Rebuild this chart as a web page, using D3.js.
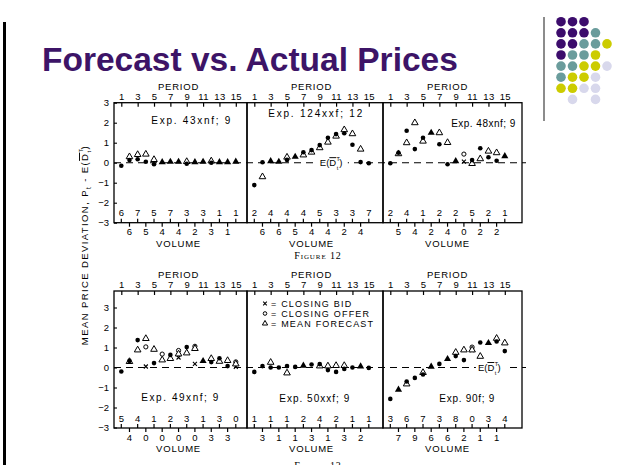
<!DOCTYPE html>
<html><head><meta charset="utf-8">
<script src="https://cdn.jsdelivr.net/npm/d3@7/dist/d3.min.js"></script>
<style>
html,body{margin:0;padding:0;background:#fff;}
svg{display:block;}
</style></head><body>
<svg id="chart" width="618" height="465"></svg>
<script>
// ---------- data ----------
const periods = d3.range(1, 16);
const periodTicks = [1, 3, 5, 7, 9, 11, 13, 15];
const yTickValues = [-3, -2, -1, 0, 1, 2, 3];

// Figure 12 — Exp. 43xnf; 9
const price43 = [-0.15, 0.13, 0.17, 0.05, -0.08, 0, 0.02, 0.02, -0.05, 0, 0.02, 0, 0, 0, 0.03];
const fcst43  = [null, 0.27, 0.38, 0.4, 0.13, 0, 0.02, 0.02, 0.03, 0, 0.02, 0.06, 0, 0, 0.03];
const vol43   = [6, 6, 7, 5, 5, 4, 7, 4, 3, 2, 3, 3, 1, 1, 1];

// Figure 12 — Exp. 124xxf; 12
const price124 = [-1.12, 0.02, 0.02, 0.02, 0.14, 0.27, 0.52, 0.63, 0.88, 1.25, 1.43, 1.47, 0.9, 0.03, -0.03];
const fcst124  = [null, -0.73, 0.05, 0.02, 0.25, 0.27, 0.36, 0.5, 0.72, 1.0, 1.3, 1.62, 1.42, 0.65, null];
const vol124   = [2, 6, 4, 6, 4, 5, 4, 4, 5, 4, 3, 2, 3, 4, 7];

// Figure 12 — Exp. 48xnf; 9
const price48 = [-0.03, 0.5, 1.6, 0.68, 1.25, 1.47, 0.92, -0.08, 0.05, null, 0.13, 0.72, 0.27, 0.1, 0.3];
const fcst48  = [null, 0.42, 0.97, 1.97, 1.05, 1.47, 1.47, 0.98, 0.05, null, -0.07, 0.17, 0.55, 0.47, 0.3];
const bid48   = [null, null, null, null, null, null, null, null, null, 0.05, null, null, null, null, null];
const offer48 = [null, null, null, null, null, null, null, null, null, 0.43, null, null, null, null, null];
const vol48   = [2, 5, 4, 4, 1, 2, 2, 4, 2, 0, 5, 2, 2, 2, 1];

// Figure 13 — Exp. 49xnf; 9
const price49 = [-0.2, 0.33, 1.37, null, 0.22, null, 0.63, null, 1.02, null, 0.3, 0.27, 0.46, 0.07, null];
const fcst49  = [null, 0.27, 0.85, 1.42, 0.88, 0.35, 0.42, 0.65, 0.7, 0.92, 0.3, 0.42, 0.28, 0.32, 0.15];
const bid49   = [null, null, null, 0.05, null, null, null, 0.5, null, 0.18, null, null, null, null, 0.03];
const offer49 = [null, null, null, 1.03, null, 0.67, null, 0.85, null, 1.06, null, null, null, null, 0.28];
const vol49   = [5, 4, 4, 0, 1, 0, 2, 0, 3, 0, 1, 3, 3, 3, 0];

// Figure 13 — Exp. 50xxf; 9
const price50 = [-0.22, 0.07, 0, 0, 0.07, 0.03, 0.07, 0.15, 0.17, -0.13, -0.22, -0.07, 0, 0, -0.02];
const fcst50  = [null, null, 0.23, null, -0.3, null, 0.07, null, 0.05, 0.05, 0.07, 0.07, null, 0.03, null];
const vol50   = [1, 3, 1, 1, 1, 1, 2, 3, 4, 1, 2, 3, 1, 2, 1];

// Figure 13 — Exp. 90f; 9
const price90 = [-1.57, -1.13, -0.7, -0.52, -0.35, 0.02, 0.18, 0.4, 0.57, 0.37, null, 1.25, 1.2, 1.3, 0.82];
const fcst90  = [null, -1.13, -0.85, null, -0.28, 0.02, null, 0.4, 0.73, 0.85, 0.85, 0.53, 1.2, 1.43, 1.2];
const bid90   = [null, null, null, null, null, null, null, null, null, null, 0.87, null, null, null, null];
const offer90 = [null, null, null, null, null, null, null, null, null, null, 1.02, null, null, null, null];
const vol90   = [3, 7, 6, 9, 7, 6, 3, 6, 8, 2, 0, 1, 3, 1, 4];

const legendLabels = ["= CLOSING BID", "= CLOSING OFFER", "= MEAN FORECAST"];

// corner ornament colours, row by row
const ornamentRows = ["PPP", "PPPT", "PPTTY", "PTTY", "TTYYL", "TYYL", "YYLL", " L L"];
const ornamentColors = {P: "#3c0c6c", T: "#6a9c9c", Y: "#cccc00", L: "#d8d8ec"};

// ---------- layout ----------
const svg = d3.select("#chart");
const SANS = "'Liberation Sans', Arial, Helvetica, sans-serif";
const colEdges = [114, 247, 383, 522];
const rows = [
  {top: 102.7, y0: 222.7, y3: 102.7, bottom: 222.7, label: "Figure 12", labelY: 259},
  {top: 291, y0: 427.5, y3: 307.5, bottom: 428, label: "Figure 13", labelY: 469}
];
const none = periods.map(() => null);
const panels = [
  {row: 0, col: 0, name: "Exp. 43xnf; 9",   pos: [4.67, 1.96],  w: 79, price: price43,  fcst: fcst43,  bid: none,  offer: none,    vol: vol43},
  {row: 0, col: 1, name: "Exp. 124xxf; 12", pos: [2.7, 2.31],   w: 94, price: price124, fcst: fcst124, bid: none,  offer: none,    vol: vol124, eLabel: [10.6, 0]},
  {row: 0, col: 2, name: "Exp. 48xnf; 9",   pos: [8.45, 1.81],  w: 64, price: price48,  fcst: fcst48,  bid: bid48, offer: offer48, vol: vol48},
  {row: 1, col: 0, name: "Exp. 49xnf; 9",   pos: [3.45, -1.68], w: 77, price: price49,  fcst: fcst49,  bid: bid49, offer: offer49, vol: vol49},
  {row: 1, col: 1, name: "Exp. 50xxf; 9",   pos: [4.05, -1.7],  w: 70, price: price50,  fcst: fcst50,  bid: none,  offer: none,    vol: vol50, legend: true},
  {row: 1, col: 2, name: "Exp. 90f; 9",     pos: [7.0, -1.7],   w: 55, price: price90,  fcst: fcst90,  bid: bid90, offer: offer90, vol: vol90, eLabel: [13.3, 0]}
];

// ---------- slide frame ----------
svg.append("rect").attr("x", 3).attr("y", 22).attr("width", 3).attr("height", 443).attr("fill", "#000");
svg.append("rect").attr("x", 543).attr("y", 17).attr("width", 2).attr("height", 104).attr("fill", "#8c8c8c");
svg.append("text").attr("x", 42).attr("y", 71)
  .attr("font-family", SANS).attr("font-weight", "bold").attr("font-size", 33.5)
  .attr("fill", "#3d1467").text("Forecast vs. Actual Prices");

ornamentRows.forEach((r, i) => {
  r.split("").forEach((c, j) => {
    if (c === " ") return;
    svg.append("circle").attr("cx", 561 + j * 11.5).attr("cy", 21.7 + i * 11.1)
      .attr("r", 4.8).attr("fill", ornamentColors[c]);
  });
});

// ---------- marker helpers ----------
const triOpen = d3.symbol(d3.symbolTriangle, 19);
const triFill = d3.symbol(d3.symbolTriangle, 22);
function drawMarkers(g, x, y, p) {
  periods.forEach((t, i) => {
    const pr = p.price[i], fc = p.fcst[i], bd = p.bid[i], of = p.offer[i];
    const merged = pr != null && fc != null && Math.abs(pr - fc) < 0.06;
    if (of != null) g.append("circle").attr("cx", x(t)).attr("cy", y(of)).attr("r", 2.1)
      .attr("fill", "#fff").attr("stroke", "#000").attr("stroke-width", 1);
    if (bd != null) {
      const cx = x(t), cy = y(bd), s = 2;
      g.append("path").attr("d", `M${cx - s},${cy - s}L${cx + s},${cy + s}M${cx - s},${cy + s}L${cx + s},${cy - s}`)
        .attr("stroke", "#000").attr("stroke-width", 1.1);
    }
    if (merged) {
      g.append("path").attr("d", triFill()).attr("transform", `translate(${x(t)},${y(fc) - 0.5})`).attr("fill", "#000");
      return;
    }
    if (fc != null) g.append("path").attr("d", triOpen()).attr("transform", `translate(${x(t)},${y(fc) - 0.5})`)
      .attr("fill", "#fff").attr("stroke", "#000").attr("stroke-width", 1);
    if (pr != null) g.append("circle").attr("cx", x(t)).attr("cy", y(pr)).attr("r", 2.3).attr("fill", "#000");
  });
}

// E(D-bar, sub t, sup T) label, with stacked indices
function eLabel(g, x, y) {
  const t = g.append("text").attr("x", x - 13).attr("y", y + 3.5).attr("font-family", SANS)
    .attr("font-size", 9.5).attr("fill", "#000");
  t.append("tspan").text("E(");
  t.append("tspan").attr("style", "text-decoration:overline").text("D");
  t.append("tspan").attr("font-size", 5.5).attr("dx", 0.4).attr("dy", -5).text("T");
  t.append("tspan").attr("font-size", 5.5).attr("dx", -3.2).attr("dy", 8.5).text("t");
  t.append("tspan").attr("dx", 1).attr("dy", -3.5).text(")");
}

// ---------- rows ----------
rows.forEach((r) => {
  const y = d3.scaleLinear().domain([-3, 3]).range([r.y0, r.y3]);
  const g = svg.append("g");

  // zero reference line across the row
  g.append("line").attr("x1", colEdges[0]).attr("x2", colEdges[3] + 4)
    .attr("y1", y(0)).attr("y2", y(0))
    .attr("stroke", "#000").attr("stroke-width", 1.1).attr("stroke-dasharray", "7,5");

  // y axis on the first panel
  const yAxis = d3.axisLeft(y).tickValues(yTickValues).tickSize(-3).tickPadding(5).tickFormat(d3.format("d"));
  const ya = g.append("g").attr("transform", `translate(${colEdges[0]},0)`).call(yAxis);
  ya.select(".domain").remove();
  ya.selectAll("line").attr("stroke", "#000").attr("stroke-width", 1.1);
  ya.selectAll("text").attr("font-family", SANS).attr("font-size", 9.5).attr("fill", "#000");

  // figure caption
  svg.append("text").attr("x", 318).attr("y", r.labelY).attr("text-anchor", "middle")
    .attr("font-family", "'Liberation Serif', 'Times New Roman', serif").attr("font-size", 10)
    .attr("font-variant", "small-caps").attr("letter-spacing", 0.9).text(r.label);
});

panels.forEach(p => {
  const r = rows[p.row];
  const x0 = colEdges[p.col], x1 = colEdges[p.col + 1];
  const x = d3.scaleLinear().domain([1, 15]).range([x0 + 7.3, x0 + 7.3 + 114.5]);
  const y = d3.scaleLinear().domain([-3, 3]).range([r.y0, r.y3]);
  const g = svg.append("g");

  // period axis along the top, ticks pointing inward
  const top = g.append("g").attr("transform", `translate(0,${r.top})`)
    .call(d3.axisTop(x).tickValues(periodTicks).tickSize(-4).tickPadding(3));
  top.select(".domain").remove();
  top.selectAll("line").attr("stroke", "#000").attr("stroke-width", 1.2);
  top.selectAll("text").attr("font-family", SANS).attr("font-size", 9.5).attr("fill", "#000").attr("letter-spacing", 0.3);
  g.append("text").attr("x", x(8)).attr("y", r.top - 13).attr("text-anchor", "middle")
    .attr("font-family", SANS).attr("font-size", 9.5).attr("letter-spacing", 0.8).text("PERIOD");

  // volume along the bottom: odd periods inside, even periods below
  periods.forEach((t, i) => {
    const odd = t % 2 === 1;
    g.append("line").attr("x1", x(t)).attr("x2", x(t))
      .attr("y1", r.bottom).attr("y2", odd ? r.bottom - 4 : r.bottom + 4)
      .attr("stroke", "#000").attr("stroke-width", 1.2);
    g.append("text").attr("x", x(t)).attr("y", odd ? r.bottom - 6.5 : r.bottom + 12.5)
      .attr("text-anchor", "middle").attr("font-family", SANS).attr("font-size", 9.5)
      .text(p.vol[i]);
  });
  g.append("text").attr("x", x(8)).attr("y", r.bottom + 24).attr("text-anchor", "middle")
    .attr("font-family", SANS).attr("font-size", 9.5).attr("letter-spacing", 0.8).text("VOLUME");

  // panel frame
  g.append("rect").attr("x", x0).attr("y", r.top).attr("width", x1 - x0).attr("height", r.bottom - r.top)
    .attr("fill", "none").attr("stroke", "#000").attr("stroke-width", 1.3);

  if (p.eLabel) {
    const ex = x(p.eLabel[0]), ey = y(p.eLabel[1]);
    g.append("rect").attr("x", ex - 15).attr("y", ey - 6).attr("width", 30).attr("height", 12).attr("fill", "#fff");
    eLabel(g, ex, ey);
  }

  g.append("text").attr("x", x(p.pos[0])).attr("y", y(p.pos[1]))
    .attr("font-family", SANS).attr("font-size", 10)
    .attr("textLength", p.w).attr("lengthAdjust", "spacing").text(p.name);

  drawMarkers(g, x, y, p);

  if (p.legend) {
    legendLabels.forEach((lab, i) => {
      const ly = r.top + 12.5 + i * 10, lx = x0 + 18;
      if (i === 0) {
        const s = 1.8;
        g.append("path").attr("d", `M${lx - s},${ly - s}L${lx + s},${ly + s}M${lx - s},${ly + s}L${lx + s},${ly - s}`)
          .attr("stroke", "#000").attr("stroke-width", 1.1);
      } else if (i === 1) {
        g.append("circle").attr("cx", lx).attr("cy", ly).attr("r", 1.8).attr("fill", "none").attr("stroke", "#000");
      } else {
        g.append("path").attr("d", d3.symbol(d3.symbolTriangle, 12)()).attr("transform", `translate(${lx},${ly})`)
          .attr("fill", "none").attr("stroke", "#000");
      }
      g.append("text").attr("x", lx + 6).attr("y", ly + 3.3).attr("font-family", SANS)
        .attr("font-size", 9).attr("letter-spacing", 1.2).text(lab);
    });
  }
});

// shared y-axis title
const yt = svg.append("text").attr("transform", "translate(88,245) rotate(-90)")
  .attr("text-anchor", "middle").attr("font-family", SANS).attr("font-size", 9.5).attr("letter-spacing", 1.4);
yt.append("tspan").text("MEAN PRICE DEVIATION,  P");
yt.append("tspan").attr("font-size", 6.5).attr("dy", 2.5).text("t");
yt.append("tspan").attr("dy", -2.5).text(" - E(");
yt.append("tspan").attr("style", "text-decoration:overline").text("D");
yt.append("tspan").attr("font-size", 6).attr("dy", -5).text("T");
yt.append("tspan").attr("font-size", 6).attr("dx", -5).attr("dy", 8).text("t");
yt.append("tspan").attr("dy", -3).text(")");
</script>
</body></html>
